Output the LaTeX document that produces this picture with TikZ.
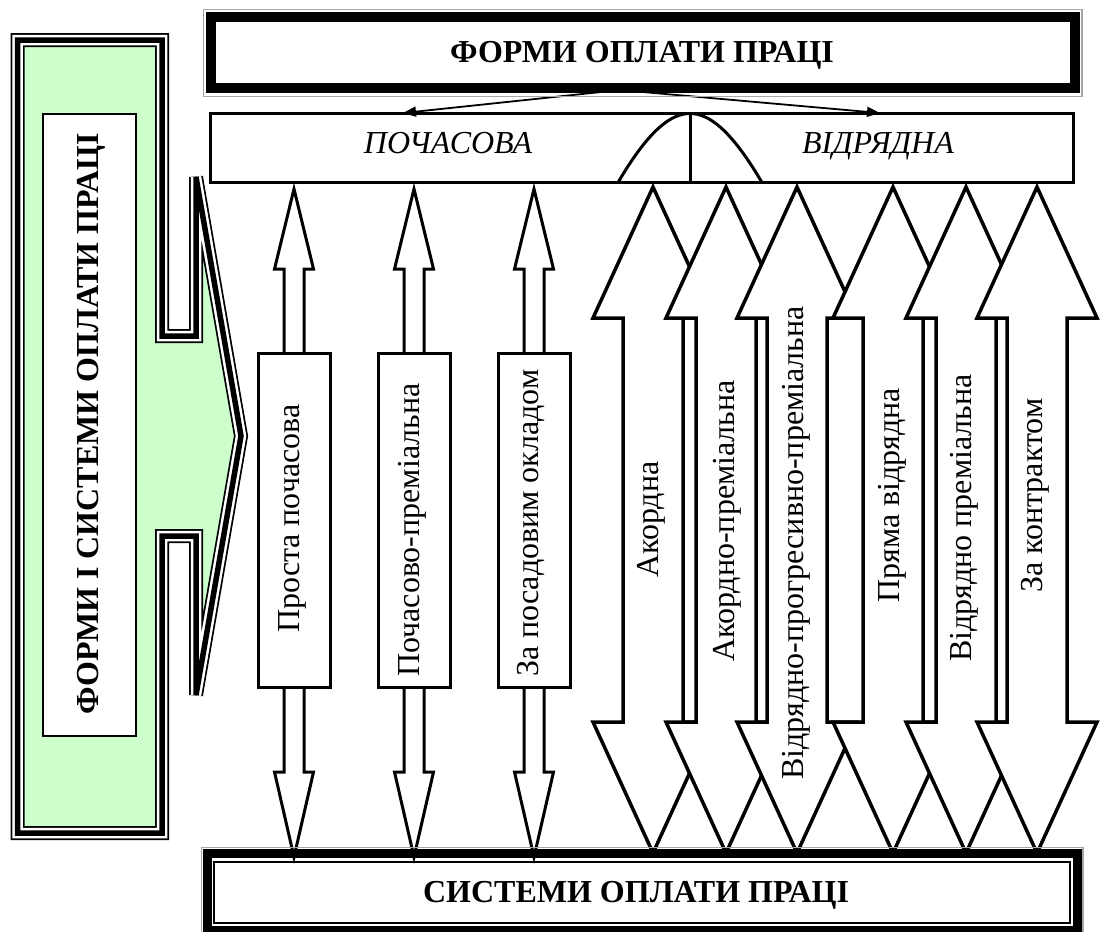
\documentclass[tikz,border=0pt]{standalone}
\usepackage{fontspec}
\setmainfont{Liberation Serif}
\usetikzlibrary{arrows.meta}
\definecolor{callgreen}{HTML}{CCFFCC}
\begin{document}
\begin{tikzpicture}[x=1pt,y=-1pt,
  vtxt/.style={font=\fontsize{32}{36}\selectfont, inner sep=0pt, rotate=90, anchor=mid west},
  hdr/.style={font=\fontsize{32}{36}\selectfont\bfseries, inner sep=0pt, anchor=base},
  itxt/.style={font=\fontsize{32}{36}\selectfont\itshape, inner sep=0pt, anchor=base},
  blockarrow/.style={draw=black, line width=3.5pt, fill=white, line join=miter},
  narrowarrow/.style={draw=black, line width=3pt, fill=white, line join=miter},
  sysbox/.style={draw=black, line width=3pt, fill=white, inner sep=0pt},
  conn/.style={line width=1.8pt, -{Triangle[length=13pt,width=10pt]}},
  shadowline/.style={draw=gray!70, line width=1.2pt},
]
\useasboundingbox (0,0) rectangle (1101,932);

% ---------- left callout (green) ----------
\fill[callgreen] (17.5,40) -- (162,40) -- (162,336) -- (196,336) -- (196,177) -- (241,436) -- (196,695) -- (196,536) -- (162,536) -- (162,833) -- (17.5,833) -- cycle;
\foreach \w/\col in {14/black,10.5/white,5.5/black}
  \draw[line width=\w pt, draw=\col, line join=miter, miter limit=4] (17.5,40) -- (162,40) -- (162,336) -- (196,336) -- (196,177) -- (241,436) -- (196,695) -- (196,536) -- (162,536) -- (162,833) -- (17.5,833) -- cycle;
\node[draw, line width=2pt, fill=white, minimum width=93pt, minimum height=622pt, inner sep=0pt] (leftbox) at (89.5,425) {};
\node[hdr, rotate=90] (lefttxt) at (98,424) {ФОРМИ І СИСТЕМИ ОПЛАТИ ПРАЦІ};

% ---------- connectors from top box ----------
\coordinate (src) at (620,90);
\coordinate (tL) at (403,113);
\coordinate (tR) at (880,113);
\draw[conn] (src) -- (tL);
\draw[conn] (src) -- (tR);

% ---------- top box ----------
\draw[shadowline] (203.5,9.5) rectangle (1082,96.5);
\node[draw, line width=10pt, minimum width=864pt, minimum height=71pt, inner sep=0pt] (forms) at (643,52.5) {};
\node[hdr] (formstxt) at (642,62) {ФОРМИ ОПЛАТИ ПРАЦІ};

% ---------- second row box ----------
\node[draw, line width=3pt, minimum width=863.5pt, minimum height=69pt, inner sep=0pt] (kinds) at (641.75,148) {};
\draw[line width=3pt] (618,182.5) .. controls (650,128) and (672,113.5) .. (690,113.5) .. controls (708,113.5) and (730,128) .. (762,182.5);
\draw[line width=3pt] (690,113.5) -- (690,182.5);
\node[itxt] (time) at (448,153.5) {ПОЧАСОВА};
\node[itxt] (piece) at (878,153.5) {ВІДРЯДНА};

% ---------- narrow double arrows (time-based) ----------
\foreach \cx/\n in {294/a,414/b,534/c} {
  \draw[narrowarrow] (\cx,189) -- (\cx+19.5,269) -- (\cx+10,269) -- (\cx+10,356) -- (\cx-10,356) -- (\cx-10,269) -- (\cx-19.5,269) -- cycle;
  \draw[narrowarrow] (\cx-10,684) -- (\cx-10,772) -- (\cx-19.5,772) -- (\cx,857) -- (\cx+19.5,772) -- (\cx+10,772) -- (\cx+10,684) -- cycle;
  \node[sysbox, minimum width=72pt, minimum height=334pt] (r\n) at (\cx,520.5) {};
}
\node[vtxt] (ta) at (297.5,633) {Проста почасова};
\node[vtxt] (tb) at (417.5,677) {Почасово-преміальна};
\node[vtxt] (tc) at (536.5,677) {За посадовим окладом};

% ---------- big double arrows (piece-rate) ----------
\foreach \cx in {653,726,797,893,966,1037} {
  \draw[blockarrow] (\cx,187) -- (\cx+60,318) -- (\cx+30,318) -- (\cx+30,722) -- (\cx+60,722) -- (\cx,853) -- (\cx-60,722) -- (\cx-30,722) -- (\cx-30,318) -- (\cx-60,318) -- cycle;
}
\node[vtxt] (p1) at (656.5,578) {Акордна};
\node[vtxt] (p2) at (732.5,662) {Акордно-преміальна};
\node[vtxt] (p3) at (801.5,780) {Відрядно-прогресивно-преміальна};
\node[vtxt] (p4) at (897.5,603) {Пряма відрядна};
\node[vtxt] (p5) at (969,662) {Відрядно преміальна};
\node[vtxt] (p6) at (1040,593) {За контрактом};

% ---------- bottom box ----------
\draw[shadowline] (201.5,847.5) rectangle (1083,936);
\node[draw, line width=9pt, minimum width=870pt, minimum height=77pt, inner sep=0pt] (systems) at (642,891.5) {};
\node[draw, line width=2pt, minimum width=856pt, minimum height=61pt, inner sep=0pt] (systemsin) at (642,892.5) {};
\node[hdr] (systxt) at (636,902) {СИСТЕМИ ОПЛАТИ ПРАЦІ};
\end{tikzpicture}
\end{document}
